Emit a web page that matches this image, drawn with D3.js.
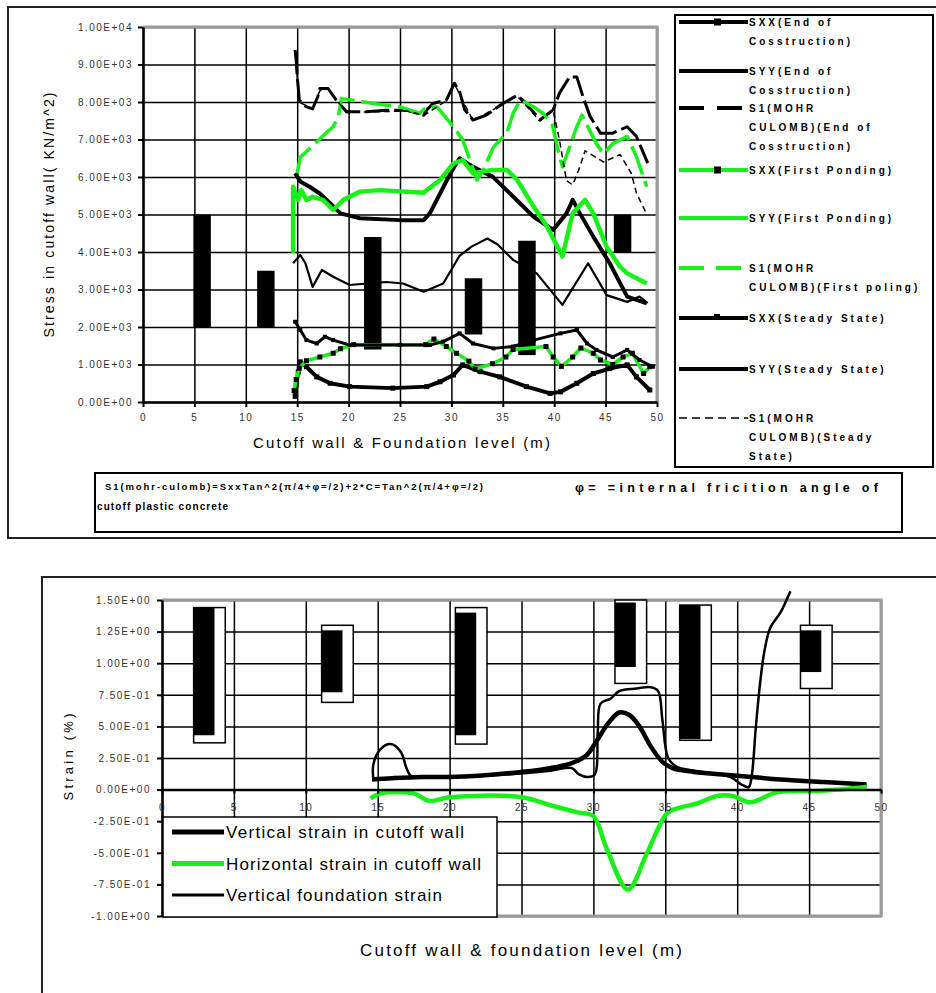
<!DOCTYPE html>
<html>
<head>
<meta charset="utf-8">
<script src="https://cdn.jsdelivr.net/npm/d3@7"></script>
<style>
  body { margin: 0; background: #fff; }
  svg { display: block; font-family: "Liberation Sans", Arial, sans-serif; }
</style>
</head>
<body>
<div id="chart"></div>
<script>
// ---------- shared axis values ----------
const xTicks = [0, 5, 10, 15, 20, 25, 30, 35, 40, 45, 50];
const xTickLabels = ["0", "5", "10", "15", "20", "25", "30", "35", "40", "45", "50"];

const stressTicks = [0, 1000, 2000, 3000, 4000, 5000, 6000, 7000, 8000, 9000, 10000];
const stressTickLabels = ["0.00E+00", "1.00E+03", "2.00E+03", "3.00E+03", "4.00E+03", "5.00E+03",
  "6.00E+03", "7.00E+03", "8.00E+03", "9.00E+03", "1.00E+04"];

const strainTicks = [-1, -0.75, -0.5, -0.25, 0, 0.25, 0.5, 0.75, 1, 1.25, 1.5];
const strainTickLabels = ["-1.00E+00", "-7.50E-01", "-5.00E-01", "-2.50E-01", "0.00E+00", "2.50E-01",
  "5.00E-01", "7.50E-01", "1.00E+00", "1.25E+00", "1.50E+00"];

// ---------- stress chart: floating bars ----------
const stressBarStart = [4.9, 11.1, 21.5, 31.3, 36.5, 45.8];
const stressBarLow = [2000, 2000, 1400, 1800, 1250, 4000];
const stressBarHigh = [5000, 3500, 4400, 3300, 4300, 5000];

// ---------- stress chart: series [level, stress] ----------
const sxxEoc = [[14.8,150],[14.9,450],[15.1,800],[15.3,1070],[15.9,940],[16.9,670],[18.2,500],[20.1,410],
  [24.3,370],[27.6,410],[28.9,540],[30.2,720],[31.1,990],[32.8,810],[34.7,670],[37.3,410],[39.6,230],
  [40.6,270],[42.2,500],[43.8,760],[45.4,890],[47.1,990],[48.0,670],[49.3,320]];
const syyEoc = [[14.8,6100],[15.3,5880],[16.2,5740],[17.2,5560],[18.2,5300],[19.2,5030],[21.1,4900],
  [25.0,4850],[27.3,4850],[27.9,5030],[28.9,5560],[29.9,6100],[30.8,6500],[32.1,6270],[34.0,6010],
  [36.0,5480],[38.0,4940],[39.9,4590],[41.2,5030],[41.8,5390],[42.5,5030],[43.8,4410],[45.4,3700],
  [47.1,2810],[49.0,2630]];
const s1Eoc = [[14.8,9390],[14.9,9120],[15.0,8670],[15.1,8400],[15.2,8050],[15.9,7870],[16.5,7820],
  [17.0,8140],[17.2,8360],[18.0,8360],[18.8,8050],[19.8,7740],[21.7,7740],[23.7,7780],[25.7,7780],
  [27.3,7650],[27.6,7790],[28.2,7960],[29.5,8050],[30.3,8500],[30.8,8270],[31.3,7790],[32.1,7520],
  [33.4,7650],[35.0,7960],[36.4,8180],[37.3,7960],[38.6,7520],[39.9,7790],[40.5,8230],[41.5,8670],
  [42.2,8670],[42.8,8140],[43.5,7610],[44.5,7170],[45.7,7170],[47.1,7340],[48.0,7080],[49.1,6370]];
const sxxFp = [[14.7,300],[14.9,600],[15.2,900],[15.9,1100],[17.2,1200],[18.5,1300],[19.2,1420],
  [20.5,1530],[27.5,1530],[28.3,1680],[29.5,1480],[30.5,1300],[31.7,1090],[32.3,880],[34.0,1020],
  [35.3,1200],[36.0,1400],[39.2,1480],[39.9,1200],[40.7,950],[41.8,1200],[42.6,1440],[43.8,1300],
  [44.5,1120],[45.7,1000],[46.7,1200],[47.6,1300],[48.7,760],[49.3,940]];
const syyFp = [[14.6,3970],[14.6,5740],[15.1,5390],[15.4,5650],[15.9,5390],[16.5,5470],[17.5,5390],
  [18.5,5120],[19.5,5390],[21.1,5610],[23.1,5650],[27.3,5580],[27.6,5650],[28.9,5920],[30.2,6360],
  [31.1,6450],[32.1,6100],[34.0,6190],[35.4,6190],[36.4,5920],[38.0,5210],[39.3,4680],[40.8,3880],
  [41.8,5030],[43.0,5390],[43.8,5030],[45.1,4140],[46.4,3610],[47.1,3430],[49.0,3160]];
const s1Fp = [[15.0,6100],[15.3,6530],[16.4,6800],[17.4,7070],[18.5,7340],[19.0,7610],[19.3,8090],
  [20.4,8050],[22.4,7960],[25.0,7870],[26.9,7700],[27.6,7870],[28.6,7870],[30.2,7340],[31.1,6990],
  [31.8,6450],[32.5,5920],[33.1,6190],[34.1,6800],[35.4,7170],[36.0,7700],[36.7,8050],[38.0,7870],
  [38.9,7700],[39.8,7430],[40.3,6800],[40.8,6270],[41.5,6800],[42.2,7340],[42.7,7650],[44.1,6890],
  [44.8,6620],[45.7,6890],[47.1,7080],[48.0,6540],[49.0,5740]];
const sxxSs = [[14.8,2140],[15.3,1920],[15.9,1650],[16.9,1560],[17.7,1740],[18.5,1650],[20.1,1520],
  [25.0,1520],[27.9,1520],[29.2,1610],[30.8,1830],[32.1,1560],[34.1,1430],[36.0,1480],[38.0,1650],
  [40.6,1830],[42.2,1920],[43.2,1560],[44.1,1390],[45.7,1200],[47.1,1390],[48.3,1120],[49.6,940]];
const syySs = [[14.6,3700],[15.3,3920],[15.8,3700],[16.5,3070],[17.4,3520],[18.5,3340],[20.1,3120],
  [21.8,3160],[23.7,3200],[25.3,3160],[27.3,2940],[29.2,3160],[30.8,3900],[32.0,4150],[33.5,4360],
  [34.5,4200],[36.0,3790],[38.3,3430],[40.8,2590],[43.3,3700],[45.1,2850],[47.1,2670],[48.3,2810],
  [49.1,2640]];
const s1Ss = [[14.8,9300],[15.2,8000],[16.5,7800],[17.2,8300],[18.0,8350],[19.8,7720],[25.7,7760],
  [27.3,7640],[29.5,8030],[30.3,8480],[32.1,7500],[35.0,7940],[36.4,8160],[38.6,7500],[39.9,7770],
  [40.5,7000],[41.2,5900],[41.8,5790],[42.5,6270],[43.0,6700],[44.8,6400],[46.4,6600],[47.5,6100],
  [48.0,5570],[49.0,5010]];

const stressLegend = [
  ["SXX(End of", "Cosstruction)"],
  ["SYY(End of", "Cosstruction)"],
  ["S1(MOHR", "CULOMB)(End of", "Cosstruction)"],
  ["SXX(First Ponding)"],
  ["SYY(First Ponding)"],
  ["S1(MOHR", "CULOMB)(First poling)"],
  ["SXX(Steady State)"],
  ["SYY(Steady State)"],
  ["S1(MOHR", "CULOMB)(Steady", "State)"]
];

// ---------- strain chart ----------
const strainBarStart = [2.2, 11.1, 20.4, 31.5, 36.0, 44.4];
const strainBarLow = [0.43, 0.77, 0.43, 0.97, 0.40, 0.93];
const strainBarHigh = [1.44, 1.26, 1.40, 1.48, 1.46, 1.26];
const strainBoxLow = [0.37, 0.69, 0.36, 0.84, 0.39, 0.80];
const strainBoxHigh = [1.44, 1.30, 1.44, 1.50, 1.46, 1.30];

const wallVertical = [[14.6,0.08],[16,0.09],[18,0.10],[20,0.10],[22,0.11],[25,0.14],[27,0.17],
  [28.5,0.21],[29.5,0.27],[30.2,0.38],[31,0.52],[31.8,0.61],[32.5,0.59],[33.2,0.50],[34.0,0.34],
  [34.8,0.22],[35.5,0.17],[37,0.14],[39,0.12],[41,0.10],[43,0.08],[46,0.06],[49,0.04]];
const wallHorizontal = [[14.5,-0.07],[15.2,-0.03],[17.5,-0.03],[18.6,-0.09],[20,-0.06],[25,-0.06],
  [27.2,-0.13],[28.9,-0.18],[30,-0.21],[30.9,-0.46],[32.4,-0.79],[33.7,-0.51],[35.1,-0.19],
  [35.8,-0.15],[37.2,-0.11],[38.6,-0.05],[39.7,-0.05],[40.9,-0.10],[42.8,-0.02],[45.8,-0.01],[49,0.02]];
const foundationVertical = [[14.7,0.08],[14.7,0.20],[15.2,0.32],[15.9,0.36],[16.6,0.30],[17.0,0.17],
  [17.3,0.11],[17.8,0.10],[20,0.10],[24,0.12],[27,0.15],[28.5,0.17],[29,0.12],[29.6,0.10],[30.1,0.12],
  [30.3,0.45],[30.5,0.68],[31.2,0.72],[31.8,0.78],[33.0,0.80],[34.0,0.81],[34.5,0.78],[34.8,0.55],
  [35.2,0.25],[35.8,0.18],[37,0.15],[39.5,0.10],[40.3,0.04],[40.8,0.02],[41.0,0.10],[41.3,0.50],
  [41.6,0.85],[41.9,1.10],[42.3,1.28],[43.0,1.40],[43.7,1.57]];

const strainLegend = ["Vertical strain in cutoff wall", "Horizontal strain in cutoff wall",
  "Vertical foundation strain"];

// ---------- drawing ----------
const GREEN = "#19f019";
const FONT = "'Liberation Sans', Arial, sans-serif";

const svg = d3.select("#chart").append("svg")
  .attr("width", 936)
  .attr("height", 993);

svg.append("rect").attr("width", 936).attr("height", 993).attr("fill", "#fff");

// outer frames
svg.append("rect")
  .attr("x", 8).attr("y", 7).attr("width", 940).attr("height", 531)
  .attr("fill", "none").attr("stroke", "#222").attr("stroke-width", 2);
svg.append("rect")
  .attr("x", 42).attr("y", 577).attr("width", 900).attr("height", 430)
  .attr("fill", "none").attr("stroke", "#222").attr("stroke-width", 2);

const styleTicks = (g, size) => {
  g.attr("font-family", FONT);
  g.selectAll("text")
    .attr("font-size", size)
    .attr("fill", "#333")
    .style("letter-spacing", "1.5px");
};

// ===== stress chart =====
const x1 = d3.scaleLinear().domain([0, 50]).range([143, 657]);
const y1 = d3.scaleLinear().domain([0, 10000]).range([402, 27]);

const stressG = svg.append("g");

// grid
stressG.append("g")
  .attr("transform", "translate(0,402)")
  .call(d3.axisBottom(x1).tickValues(xTicks).tickSize(-375).tickFormat(""))
  .call((g) => g.select(".domain").remove())
  .selectAll("line").attr("stroke", "#000").attr("stroke-width", 1.5);
stressG.append("g")
  .attr("transform", "translate(143,0)")
  .call(d3.axisLeft(y1).tickValues(stressTicks).tickSize(-514).tickFormat(""))
  .call((g) => g.select(".domain").remove())
  .selectAll("line").attr("stroke", "#000").attr("stroke-width", 1.5);

stressG.append("path")
  .attr("d", "M143,27H657V402")
  .attr("fill", "none").attr("stroke", "#999").attr("stroke-width", 3);

// bars
stressG.selectAll(".sbar")
  .data(stressBarStart)
  .join("rect")
  .attr("class", "sbar")
  .attr("x", (d) => x1(d))
  .attr("width", x1(1.7) - x1(0))
  .attr("y", (d, i) => y1(stressBarHigh[i]))
  .attr("height", (d, i) => y1(stressBarLow[i]) - y1(stressBarHigh[i]))
  .attr("fill", "#000");

const stressSeries = [
  { data: sxxEoc, color: "#000", width: 4, marker: 5 },
  { data: syyEoc, color: "#000", width: 4 },
  { data: s1Eoc, color: "#000", width: 3, dash: "24,5", legendDash: "25,13" },
  { data: sxxFp, color: GREEN, width: 3.5, marker: 5 },
  { data: syyFp, color: GREEN, width: 4.5 },
  { data: s1Fp, color: GREEN, width: 3.5, dash: "30,7", legendDash: "25,12" },
  { data: sxxSs, color: "#000", width: 3, marker: 4 },
  { data: syySs, color: "#000", width: 2.2 },
  { data: s1Ss, color: "#000", width: 1.5, dash: "6,4", legendDash: "8,5" }
];

const line1 = d3.line().x((d) => x1(d[0])).y((d) => y1(d[1]));

stressSeries.forEach((s) => {
  stressG.append("path")
    .attr("d", line1(s.data))
    .attr("fill", "none")
    .attr("stroke", s.color)
    .attr("stroke-width", s.width)
    .attr("stroke-linejoin", "round")
    .attr("stroke-dasharray", s.dash || null);
  if (s.marker) {
    stressG.selectAll(null)
      .data(s.data)
      .join("rect")
      .attr("x", (d) => x1(d[0]) - s.marker / 2)
      .attr("y", (d) => y1(d[1]) - s.marker / 2)
      .attr("width", s.marker)
      .attr("height", s.marker)
      .attr("fill", "#000");
  }
});

// axes
stressG.append("g")
  .attr("transform", "translate(143,0)")
  .call(d3.axisLeft(y1).tickValues(stressTicks)
    .tickFormat((d, i) => stressTickLabels[i]).tickSize(5).tickPadding(5).tickSizeOuter(0))
  .call((g) => g.select(".domain").attr("stroke-width", 2.5))
  .call((g) => g.selectAll(".tick line").attr("stroke-width", 2))
  .call((g) => styleTicks(g, 10));
stressG.append("g")
  .attr("transform", "translate(0,402)")
  .call(d3.axisBottom(x1).tickValues(xTicks)
    .tickFormat((d, i) => xTickLabels[i]).tickSize(5).tickPadding(7).tickSizeOuter(0))
  .call((g) => g.select(".domain").attr("stroke-width", 2.5))
  .call((g) => g.selectAll(".tick line").attr("stroke-width", 2))
  .call((g) => styleTicks(g, 10));

stressG.append("text")
  .attr("transform", "translate(54,215) rotate(-90)")
  .attr("text-anchor", "middle")
  .attr("font-size", 14)
  .attr("textLength", 245)
  .attr("lengthAdjust", "spacing")
  .text("Stress in cutoff wall( KN/m^2)");
stressG.append("text")
  .attr("x", 253).attr("y", 448)
  .attr("font-size", 15)
  .attr("textLength", 297)
  .attr("lengthAdjust", "spacing")
  .text("Cutoff wall & Foundation level (m)");

// legend
const legendRowY = [22, 71, 108, 170, 218, 268, 318, 369, 418];
const leg = stressG.append("g");
leg.append("rect")
  .attr("x", 675).attr("y", 15).attr("width", 258).attr("height", 452)
  .attr("fill", "#fff").attr("stroke", "#000").attr("stroke-width", 2);

stressSeries.forEach((s, i) => {
  const ly = legendRowY[i];
  leg.append("line")
    .attr("x1", 679).attr("x2", 748).attr("y1", ly).attr("y2", ly)
    .attr("stroke", s.color)
    .attr("stroke-width", s.width === 1.5 ? 1.5 : 4)
    .attr("stroke-dasharray", s.legendDash || null);
  if (s.marker) {
    const m = s.marker === 4 ? [6, 3, -4] : [7, 7, -3.5];
    leg.append("rect")
      .attr("x", 714).attr("y", ly + m[2]).attr("width", m[0]).attr("height", m[1])
      .attr("fill", "#000");
  }
  stressLegend[i].forEach((t, j) => {
    leg.append("text")
      .attr("x", 749)
      .attr("y", ly + 3.5 + j * 19)
      .attr("font-size", 10)
      .attr("font-weight", "bold")
      .style("letter-spacing", "3px")
      .text(t);
  });
});

// formula box
const note = stressG.append("g").attr("font-weight", "bold");
note.append("rect")
  .attr("x", 95).attr("y", 473).attr("width", 807).attr("height", 59)
  .attr("fill", "#fff").attr("stroke", "#000").attr("stroke-width", 2);
note.append("text")
  .attr("x", 105).attr("y", 490)
  .attr("font-size", 9.5)
  .attr("textLength", 378).attr("lengthAdjust", "spacing")
  .text("S1(mohr-culomb)=SxxTan^2(\u03c0/4+\u03c6=/2)+2*C=Tan^2(\u03c0/4+\u03c6=/2)");
note.append("text")
  .attr("x", 575).attr("y", 492)
  .attr("font-size", 12.5)
  .attr("textLength", 303).attr("lengthAdjust", "spacing")
  .text("\u03c6= =internal fricition angle of");
note.append("text")
  .attr("x", 97).attr("y", 510)
  .attr("font-size", 10)
  .attr("textLength", 131).attr("lengthAdjust", "spacing")
  .text("cutoff plastic concrete");

// ===== strain chart =====
const x2 = d3.scaleLinear().domain([0, 50]).range([162, 881]);
const y2 = d3.scaleLinear().domain([-1, 1.5]).range([916, 600]);

const strainG = svg.append("g");

strainG.append("g")
  .attr("transform", "translate(0,916)")
  .call(d3.axisBottom(x2).tickValues(xTicks).tickSize(-316).tickFormat(""))
  .call((g) => g.select(".domain").remove())
  .selectAll("line").attr("stroke", "#000").attr("stroke-width", 1.5);
strainG.append("g")
  .attr("transform", "translate(162,0)")
  .call(d3.axisLeft(y2).tickValues(strainTicks).tickSize(-719).tickFormat(""))
  .call((g) => g.select(".domain").remove())
  .selectAll("line").attr("stroke", "#000").attr("stroke-width", 1.5);

strainG.append("path")
  .attr("d", "M162,600H881V916H162")
  .attr("fill", "none").attr("stroke", "#999").attr("stroke-width", 3);

// hollow and solid bars
strainG.selectAll(".box")
  .data(strainBarStart)
  .join("rect")
  .attr("class", "box")
  .attr("x", (d) => x2(d))
  .attr("width", x2(2.2) - x2(0))
  .attr("y", (d, i) => y2(strainBoxHigh[i]))
  .attr("height", (d, i) => y2(strainBoxLow[i]) - y2(strainBoxHigh[i]))
  .attr("fill", "#fff").attr("stroke", "#000").attr("stroke-width", 1.5);
strainG.selectAll(".bbar")
  .data(strainBarStart)
  .join("rect")
  .attr("class", "bbar")
  .attr("x", (d) => x2(d))
  .attr("width", x2(1.45) - x2(0))
  .attr("y", (d, i) => y2(strainBarHigh[i]))
  .attr("height", (d, i) => y2(strainBarLow[i]) - y2(strainBarHigh[i]))
  .attr("fill", "#000");

const strainSeries = [
  { data: wallVertical, color: "#000", width: 4.5, legendWidth: 5 },
  { data: wallHorizontal, color: GREEN, width: 4.5, legendWidth: 5 },
  { data: foundationVertical, color: "#000", width: 2.5, legendWidth: 3 }
];

const line2 = d3.line()
  .x((d) => x2(d[0]))
  .y((d) => y2(d[1]))
  .curve(d3.curveCatmullRom.alpha(0.5));

strainSeries.forEach((s) => {
  strainG.append("path")
    .attr("d", line2(s.data))
    .attr("fill", "none")
    .attr("stroke", s.color)
    .attr("stroke-width", s.width)
    .attr("stroke-linejoin", "round");
});

strainG.append("g")
  .attr("transform", "translate(162,0)")
  .call(d3.axisLeft(y2).tickValues(strainTicks)
    .tickFormat((d, i) => strainTickLabels[i]).tickSize(5).tickPadding(6).tickSizeOuter(0))
  .call((g) => g.select(".domain").attr("stroke-width", 2.5))
  .call((g) => g.selectAll(".tick line").attr("stroke-width", 2))
  .call((g) => styleTicks(g, 10));
strainG.append("g")
  .attr("transform", `translate(0,${y2(0)})`)
  .call(d3.axisBottom(x2).tickValues(xTicks)
    .tickFormat((d, i) => xTickLabels[i]).tickSize(4).tickPadding(10).tickSizeOuter(0))
  .call((g) => g.select(".domain").attr("stroke-width", 2.5))
  .call((g) => g.selectAll(".tick line").attr("stroke-width", 2))
  .call((g) => styleTicks(g, 10));

strainG.append("text")
  .attr("transform", "translate(73,757) rotate(-90)")
  .attr("text-anchor", "middle")
  .attr("font-size", 13)
  .attr("textLength", 87)
  .attr("lengthAdjust", "spacing")
  .text("Strain (%)");
strainG.append("text")
  .attr("x", 360).attr("y", 956)
  .attr("font-size", 17)
  .attr("textLength", 322)
  .attr("lengthAdjust", "spacing")
  .text("Cutoff wall & foundation level (m)");

// legend
const legendLengths = [238, 255, 216];
const leg2 = strainG.append("g");
leg2.append("rect")
  .attr("x", 163).attr("y", 817).attr("width", 334).attr("height", 100)
  .attr("fill", "#fff").attr("stroke", "#000").attr("stroke-width", 1.5);
strainSeries.forEach((s, i) => {
  const ly = 832 + i * 31.5;
  leg2.append("line")
    .attr("x1", 172).attr("x2", 224).attr("y1", ly).attr("y2", ly)
    .attr("stroke", s.color).attr("stroke-width", s.legendWidth);
  leg2.append("text")
    .attr("x", 226).attr("y", ly + 6)
    .attr("font-size", 17)
    .attr("textLength", legendLengths[i])
    .attr("lengthAdjust", "spacing")
    .text(strainLegend[i]);
});
</script>
</body>
</html>
